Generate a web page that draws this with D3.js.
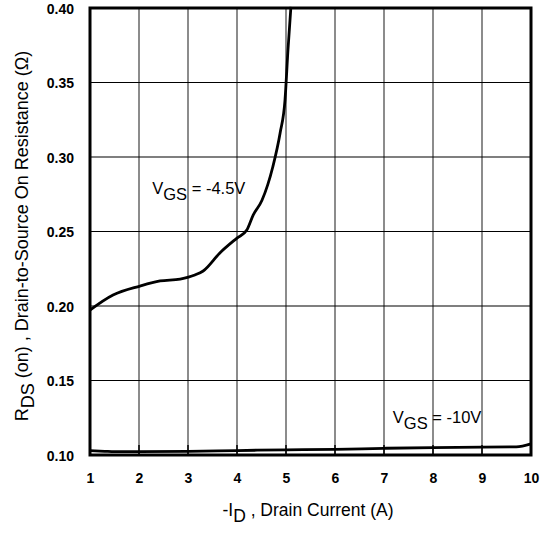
<!DOCTYPE html>
<html><head><meta charset="utf-8">
<script src="https://cdn.jsdelivr.net/npm/d3@7/dist/d3.min.js"></script>
<style>body{margin:0;background:#fff;} text{font-family:"Liberation Sans",Arial,sans-serif;}</style>
</head><body>
<svg id="chart" width="546" height="537"></svg>
<script>
const xTicks = [1,2,3,4,5,6,7,8,9,10];
const yTicks = [0.10,0.15,0.20,0.25,0.30,0.35,0.40];
const idA = [1.0,1.47,2.02,2.43,2.84,3.14,3.31,3.65,4.0,4.2,4.33,4.51,4.73,4.88,4.98,5.04,5.10];
const rdsA = [0.1973,0.2074,0.2134,0.2168,0.2181,0.2208,0.2235,0.2356,0.2456,0.251,0.261,0.271,0.2933,0.3161,0.3383,0.3718,0.4007];
const idB = [1.0,1.3,1.5,2.0,3.0,4.0,5.0,6.0,7.0,8.0,9.0,9.7,10.0];
const rdsB = [0.1030,0.1025,0.1022,0.1023,0.1025,0.1030,0.1035,0.1038,0.1045,0.1050,0.1053,0.1055,0.1075];

const svg = d3.select("#chart");
const L=90, R=531, T=8, B=455;
const x = d3.scaleLinear().domain([1,10]).range([L,R]);
const y = d3.scaleLinear().domain([0.10,0.40]).range([B,T]);

// vertical grid
svg.append("g").selectAll("line").data(xTicks.slice(1,-1)).join("line")
  .attr("x1",d=>x(d)).attr("x2",d=>x(d)).attr("y1",T).attr("y2",B)
  .attr("stroke","#666").attr("stroke-width",1.5);
svg.append("g").selectAll("line").data(xTicks.slice(1,-1)).join("line")
  .attr("x1",d=>x(d)).attr("x2",d=>x(d)).attr("y1",B-10).attr("y2",B)
  .attr("stroke","#000").attr("stroke-width",1.5);
// horizontal grid
svg.append("g").selectAll("line").data(yTicks.slice(1,-1)).join("line")
  .attr("x1",L).attr("x2",R).attr("y1",d=>y(d)).attr("y2",d=>y(d))
  .attr("stroke","#000").attr("stroke-width",1.2);

const line = d3.line().x(d=>x(d[0])).y(d=>y(d[1])).curve(d3.curveMonotoneX);
svg.append("path").datum(idA.map((v,i)=>[v,rdsA[i]]))
  .attr("d",line).attr("fill","none").attr("stroke","#000").attr("stroke-width",2.8);
svg.append("path").datum(idB.map((v,i)=>[v,rdsB[i]]))
  .attr("d",line).attr("fill","none").attr("stroke","#000").attr("stroke-width",2.8);

// frame
svg.append("rect").attr("x",L).attr("y",T).attr("width",R-L).attr("height",B-T)
  .attr("fill","none").attr("stroke","#000").attr("stroke-width",3);

// axes labels
const xAxis = d3.axisBottom(x).tickValues(xTicks).tickSize(0).tickPadding(0).tickFormat(d3.format("d"));
const gx = svg.append("g").attr("transform",`translate(0,${B})`).call(xAxis);
gx.select(".domain").remove();
gx.selectAll("text").attr("dy",null).attr("y",28).attr("font-size",14).attr("font-weight","bold").attr("fill","#000").style("font-family","Liberation Sans, Arial, sans-serif");

const yAxis = d3.axisLeft(y).tickValues(yTicks).tickSize(0).tickPadding(0).tickFormat(d3.format(".2f"));
const gy = svg.append("g").attr("transform",`translate(74,0)`).call(yAxis);
gy.select(".domain").remove();
gy.selectAll("text").attr("dy","0.36em").attr("font-size",14).attr("font-weight","bold").attr("fill","#000").style("font-family","Liberation Sans, Arial, sans-serif");

// curve labels
function vgs(xp, yp, val){
  const t = svg.append("text").attr("x",xp).attr("y",yp).attr("font-size",16.5).attr("fill","#000");
  t.append("tspan").text("V");
  t.append("tspan").attr("dy",6).attr("font-size",16.5).text("GS");
  t.append("tspan").attr("dy",-6).text(" = " + val);
}
vgs(x(2.27), y(0.2752), "-4.5V");
vgs(x(7.18), y(0.1215), "-10V");

// y axis title
const yt = svg.append("text").attr("transform","translate(28,236) rotate(-90)")
  .attr("text-anchor","middle").attr("font-size",18).attr("fill","#000");
yt.append("tspan").text("R");
yt.append("tspan").attr("dy",6).text("DS");
yt.append("tspan").attr("dy",-6).text(" (on) , Drain-to-Source On Resistance (Ω)");

// x axis title
const xt = svg.append("text").attr("x",308).attr("y",516)
  .attr("text-anchor","middle").attr("font-size",17.5).attr("fill","#000");
xt.append("tspan").text("-I");
xt.append("tspan").attr("dy",6).text("D");
xt.append("tspan").attr("dy",-6).text(" , Drain Current (A)");
</script>
</body></html>
